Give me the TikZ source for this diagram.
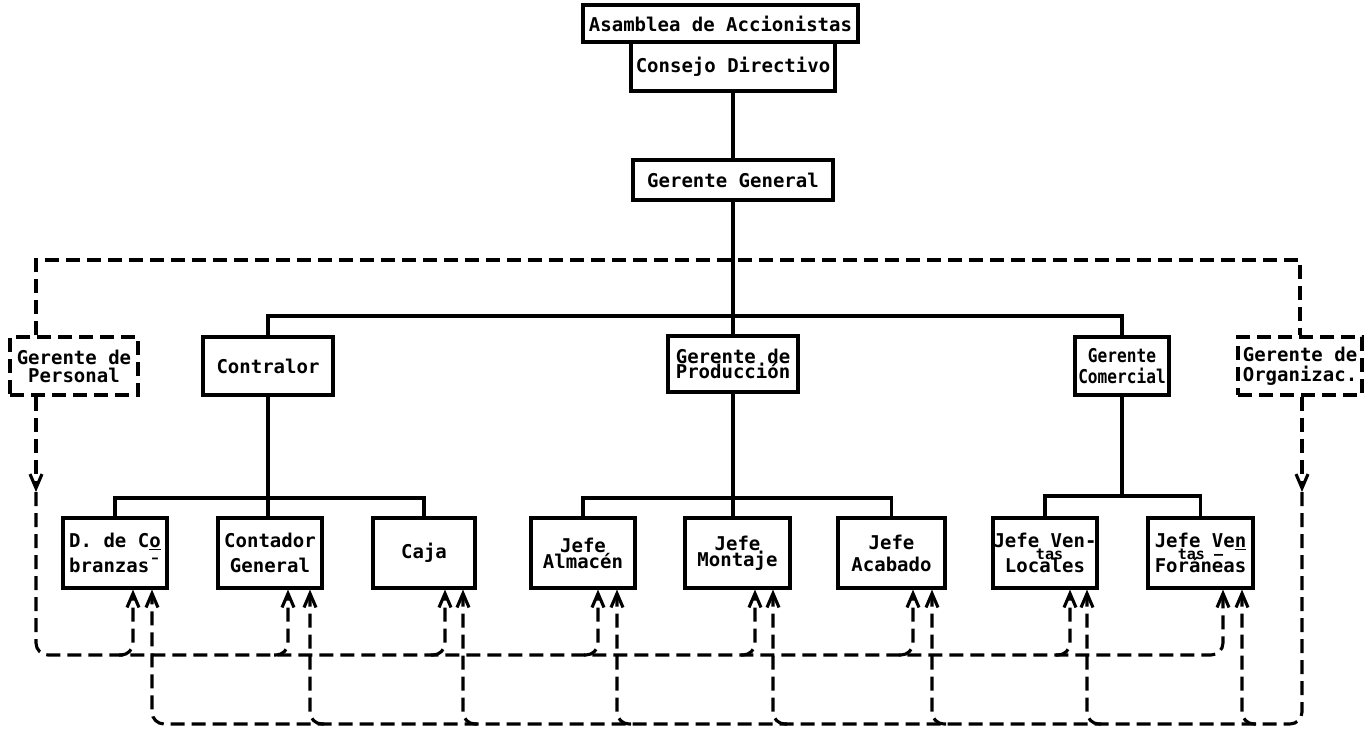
\documentclass[tikz,border=0pt]{standalone}
\usepackage{fontspec}
\setmonofont{DejaVu Sans Mono}
\usetikzlibrary{arrows.meta}
\begin{document}
\begin{tikzpicture}[x=1pt,y=-1pt,
  box/.style={draw,line width=3.1pt,inner sep=0pt,align=center,
    font=\ttfamily\bfseries\fontsize{19}{20}\selectfont},
  dbox/.style={box,dash pattern=on 14pt off 7pt},
  link/.style={line width=3.1pt},
  dlink/.style={line width=3.1pt,dash pattern=on 14pt off 7pt},
  tip/.style={-{Straight Barb[length=14pt,width=12pt]}},
  rcorner/.style={rounded corners=12pt}]
\fill[white] (0,0) rectangle (1370,730);
\useasboundingbox (0,0) rectangle (1370,730);

% top levels
\node[box,minimum width=275pt,minimum height=37pt] (asam) at (720.5,23.5) {Asamblea de Accionistas};
\node[box,minimum width=204pt,minimum height=49pt] (cons) at (733,66.5) {Consejo Directivo};
\node[box,minimum width=200pt,minimum height=40pt] (gg) at (733,180) {Gerente General};

% middle row
\node[dbox,minimum width=128pt,minimum height=58pt] (pers) at (74,366) {Gerente de\\[-2pt]Personal};
\node[box,minimum width=130pt,minimum height=58pt] (contr) at (268,366) {Contralor};
\node[box,minimum width=130pt,minimum height=56pt] (prod) at (733,364) {Gerente de\\[-5pt]Producción};
\node[box,minimum width=94pt,minimum height=58pt] (come) at (1122,366) {\scalebox{0.85}[1]{Gerente}\\[1pt]\scalebox{0.85}[1]{Comercial}};
\node[dbox,minimum width=124pt,minimum height=58pt] (orga) at (1300,366) {Gerente de\\Organizac.};

% bottom row
\node[box,minimum width=104pt,minimum height=70pt] (cob) at (115,553) {D. de C\underline{o}\\[5pt]branzas¯};
\node[box,minimum width=104pt,minimum height=70pt] (cont) at (270,553) {Contador\\[5pt]General};
\node[box,minimum width=102pt,minimum height=70pt] (caja) at (424,553) {Caja};
\node[box,minimum width=104pt,minimum height=70pt] (alm) at (583,553) {Jefe\\[-4pt]Almacén};
\node[box,minimum width=105pt,minimum height=70pt] (mont) at (737.5,553) {Jefe\\[-4pt]Montaje};
\node[box,minimum width=107pt,minimum height=70pt] (acab) at (891.5,553) {Jefe\\[2pt]Acabado};
\node[box,minimum width=104pt,minimum height=70pt] (loc) at (1045,553) {Jefe Ven-\\[-8pt]{\fontsize{15}{15}\selectfont\ tas}\\[-7pt]Locales};
\node[box,minimum width=105pt,minimum height=70pt] (fora) at (1200.5,553) {Jefe Ve\underline{n}\\[-8pt]{\fontsize{15}{15}\selectfont tas –}\\[-7pt]Foráneas};

% solid hierarchy
\coordinate (bar) at (733,316);
\coordinate (g1) at (268,498);
\coordinate (g2) at (733,498);
\coordinate (g3) at (1122,496);
\draw[link] (cons.south) -- (gg.north);
\draw[link] (gg.south) -- (prod.north);
\draw[link] (contr.north) |- (bar) -| (come.north);
\draw[link] (contr.south) -- (contr.south |- cont.north);
\draw[link] (cob.north) |- (g1) -| (caja.north);
\draw[link] (prod.south) -- (prod.south |- mont.north);
\draw[link] (alm.north) |- (g2) -| (acab.north);
\draw[link] (come.south) -- (g3);
\draw[link] (loc.north) |- (g3) -| (fora.north);

% dashed staff frame
\coordinate (tl) at (36,260);
\coordinate (pm) at (36,492);
\coordinate (om) at (1302,492);
\draw[dlink] (pers.north -| tl) -- (tl) -| (orga.north);

% bus A (Personal)
\coordinate (a8) at (1223,655);
\draw[dlink,tip] (pers.south -| tl) -- (pm);
\draw[dlink,tip,rcorner] (pm) |- (a8) -- (fora.south -| a8);
\foreach \b/\x in {cob/133,cont/288,caja/445,alm/598,mont/755,acab/913,loc/1070}{
  \coordinate (a-\b) at (\x,655);
  \draw[dlink,tip,rcorner] (a-\b) ++(-14,0) -| (\b.south -| a-\b);
}

% bus B (Organizacion)
\coordinate (b1) at (152,724);
\draw[dlink,tip] (orga.south -| om) -- (om);
\draw[dlink,tip,rcorner] (om) |- (b1) -- (cob.south -| b1);
\foreach \b/\x in {cont/310,caja/463,alm/617,mont/773,acab/932,loc/1087,fora/1242}{
  \coordinate (b-\b) at (\x,724);
  \draw[dlink,tip,rcorner] (b-\b) ++(14,0) -| (\b.south -| b-\b);
}
\end{tikzpicture}
\end{document}
